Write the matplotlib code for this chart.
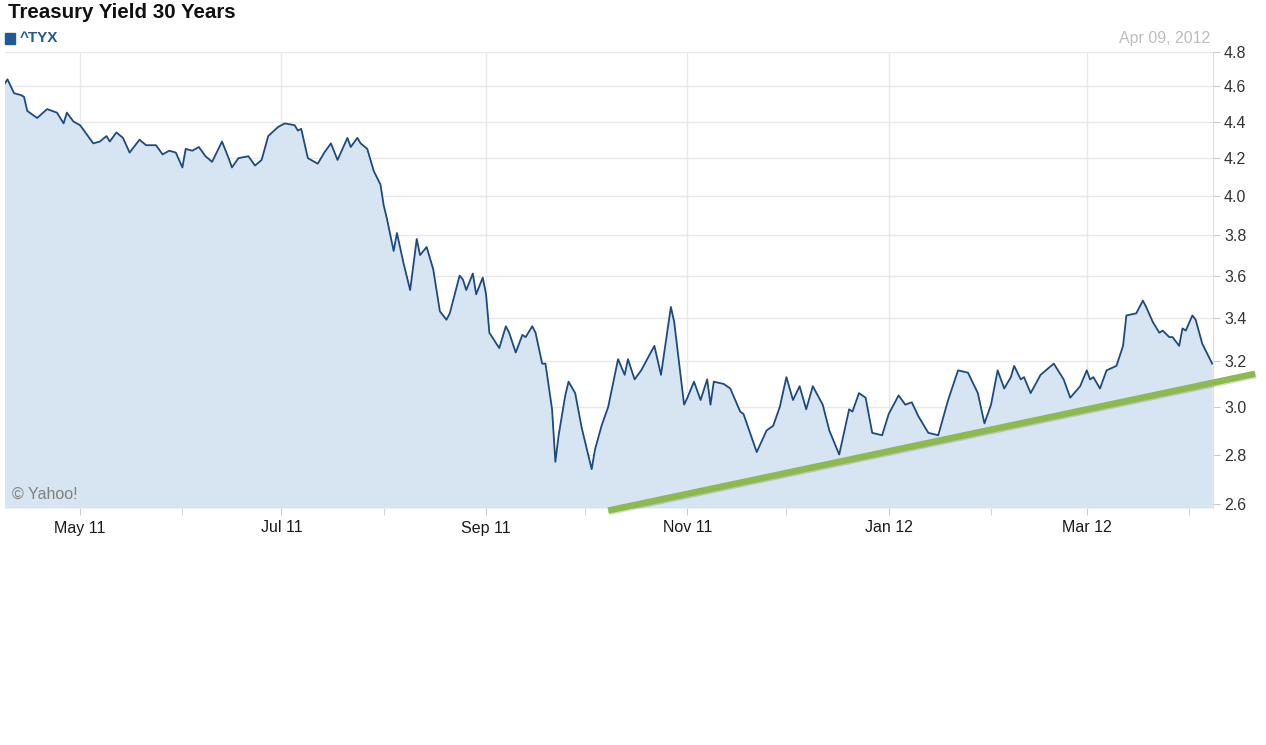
import numpy as np
import pandas as pd
import matplotlib
matplotlib.use('Agg')
import matplotlib.pyplot as plt
import matplotlib.dates as mdates
import matplotlib.patheffects as pe
from matplotlib.patches import Rectangle

plt.rcParams['font.family'] = ['Liberation Sans', 'DejaVu Sans']

# ^TYX closing yields
dates = ['2011-04-08', '2011-04-09', '2011-04-10', '2011-04-11', '2011-04-13', '2011-04-14',
         '2011-04-15', '2011-04-18', '2011-04-21', '2011-04-24', '2011-04-26', '2011-04-27',
         '2011-04-29', '2011-05-01', '2011-05-05', '2011-05-07', '2011-05-09', '2011-05-10',
         '2011-05-12', '2011-05-14', '2011-05-16', '2011-05-19', '2011-05-21', '2011-05-24',
         '2011-05-26', '2011-05-28', '2011-05-30', '2011-06-01', '2011-06-02', '2011-06-04',
         '2011-06-06', '2011-06-08', '2011-06-10', '2011-06-13', '2011-06-15', '2011-06-16',
         '2011-06-18', '2011-06-21', '2011-06-23', '2011-06-25', '2011-06-27', '2011-06-30',
         '2011-07-02', '2011-07-05', '2011-07-06', '2011-07-07', '2011-07-09', '2011-07-12',
         '2011-07-14', '2011-07-16', '2011-07-18', '2011-07-21', '2011-07-22', '2011-07-24',
         '2011-07-25', '2011-07-27', '2011-07-29', '2011-07-31', '2011-08-01', '2011-08-02',
         '2011-08-04', '2011-08-05', '2011-08-07', '2011-08-09', '2011-08-11', '2011-08-12',
         '2011-08-14', '2011-08-16', '2011-08-18', '2011-08-20', '2011-08-21', '2011-08-24',
         '2011-08-25', '2011-08-26', '2011-08-28', '2011-08-29', '2011-08-31', '2011-09-01',
         '2011-09-02', '2011-09-05', '2011-09-07', '2011-09-08', '2011-09-10', '2011-09-12',
         '2011-09-13', '2011-09-15', '2011-09-16', '2011-09-18', '2011-09-19', '2011-09-21',
         '2011-09-22', '2011-09-23', '2011-09-25', '2011-09-26', '2011-09-28', '2011-09-30',
         '2011-10-03', '2011-10-04', '2011-10-06', '2011-10-08', '2011-10-11', '2011-10-13',
         '2011-10-14', '2011-10-16', '2011-10-18', '2011-10-22', '2011-10-24', '2011-10-27',
         '2011-10-28', '2011-10-31', '2011-11-01', '2011-11-03', '2011-11-05', '2011-11-07',
         '2011-11-08', '2011-11-09', '2011-11-12', '2011-11-14', '2011-11-17', '2011-11-18',
         '2011-11-22', '2011-11-25', '2011-11-27', '2011-11-29', '2011-12-01', '2011-12-03',
         '2011-12-05', '2011-12-07', '2011-12-09', '2011-12-12', '2011-12-14', '2011-12-17',
         '2011-12-20', '2011-12-21', '2011-12-23', '2011-12-25', '2011-12-27', '2011-12-30',
         '2012-01-01', '2012-01-04', '2012-01-06', '2012-01-08', '2012-01-10', '2012-01-13',
         '2012-01-16', '2012-01-19', '2012-01-22', '2012-01-25', '2012-01-28', '2012-01-30',
         '2012-02-01', '2012-02-03', '2012-02-05', '2012-02-07', '2012-02-08', '2012-02-10',
         '2012-02-11', '2012-02-13', '2012-02-16', '2012-02-20', '2012-02-23', '2012-02-25',
         '2012-02-28', '2012-03-01', '2012-03-02', '2012-03-03', '2012-03-05', '2012-03-07',
         '2012-03-10', '2012-03-12', '2012-03-13', '2012-03-16', '2012-03-18', '2012-03-19',
         '2012-03-21', '2012-03-23', '2012-03-24', '2012-03-26', '2012-03-27', '2012-03-29',
         '2012-03-30', '2012-03-31', '2012-04-02', '2012-04-03', '2012-04-05', '2012-04-08']

yields = [4.61, 4.64, 4.60, 4.56, 4.55, 4.54,
          4.46, 4.42, 4.47, 4.45, 4.39, 4.45,
          4.40, 4.38, 4.28, 4.29, 4.32, 4.29,
          4.34, 4.31, 4.23, 4.30, 4.27, 4.27,
          4.22, 4.24, 4.23, 4.15, 4.25, 4.24,
          4.26, 4.21, 4.18, 4.29, 4.20, 4.15,
          4.20, 4.21, 4.16, 4.19, 4.32, 4.37,
          4.39, 4.38, 4.35, 4.36, 4.20, 4.17,
          4.23, 4.28, 4.19, 4.31, 4.26, 4.31,
          4.28, 4.25, 4.13, 4.06, 3.95, 3.88,
          3.72, 3.81, 3.66, 3.53, 3.78, 3.70,
          3.74, 3.63, 3.43, 3.39, 3.42, 3.60,
          3.58, 3.53, 3.61, 3.51, 3.59, 3.51,
          3.33, 3.26, 3.36, 3.33, 3.24, 3.32,
          3.31, 3.36, 3.33, 3.19, 3.19, 2.99,
          2.77, 2.88, 3.05, 3.11, 3.06, 2.91,
          2.74, 2.82, 2.92, 3.00, 3.21, 3.14,
          3.21, 3.12, 3.16, 3.27, 3.14, 3.45,
          3.38, 3.01, 3.04, 3.11, 3.03, 3.12,
          3.01, 3.11, 3.10, 3.08, 2.98, 2.97,
          2.81, 2.90, 2.92, 3.00, 3.13, 3.03,
          3.09, 2.99, 3.09, 3.01, 2.90, 2.80,
          2.99, 2.98, 3.06, 3.04, 2.89, 2.88,
          2.97, 3.05, 3.01, 3.02, 2.96, 2.89,
          2.88, 3.03, 3.16, 3.15, 3.06, 2.93,
          3.01, 3.16, 3.08, 3.13, 3.18, 3.12,
          3.13, 3.06, 3.14, 3.19, 3.12, 3.04,
          3.09, 3.16, 3.12, 3.13, 3.08, 3.16,
          3.18, 3.27, 3.41, 3.42, 3.48, 3.45,
          3.38, 3.33, 3.34, 3.31, 3.31, 3.27,
          3.35, 3.34, 3.41, 3.39, 3.28, 3.19]

# hand-drawn support line
trend_dates = ['2011-10-08', '2012-04-21']
trend_values = [2.575, 3.145]

y_ticks = [2.6, 2.8, 3.0, 3.2, 3.4, 3.6, 3.8, 4.0, 4.2, 4.4, 4.6, 4.8]

x = pd.to_datetime(dates)
W, H = 1266, 745
fig = plt.figure(figsize=(W / 100, H / 100), dpi=100)
ax = fig.add_axes([5 / W, 1 - 508 / H, (1213 - 5) / W, (508 - 52) / H])

ax.set_yscale('function', functions=(lambda v: np.log(v + 1.74), lambda t: np.exp(t) - 1.74))
ybot = 2.585
ax.fill_between(x, yields, ybot, color='#d6e5f1', lw=0, zorder=1)
ax.plot(x, yields, color='#1b4b80', lw=1.3, zorder=3)

ax.plot(pd.to_datetime(trend_dates), trend_values, color='#8dba4c', lw=4.6,
        solid_capstyle='butt', clip_on=False, zorder=5,
        path_effects=[pe.SimpleLineShadow(offset=(0.6, -1.0), alpha=0.15), pe.Normal()])

ax.set_ylim(ybot, 4.8)
ax.set_xlim(pd.Timestamp('2011-04-08 06:00'), pd.Timestamp('2012-04-08 06:00'))

ax.set_yticks(y_ticks)
ax.set_yticklabels(['%.1f' % v for v in y_ticks])
ax.yaxis.set_minor_locator(matplotlib.ticker.NullLocator())
ax.yaxis.tick_right()
ax.tick_params(axis='y', which='major', length=5, color='#cccccc', pad=3,
               labelsize=11.5, labelcolor='#333333')

ax.xaxis.set_major_locator(mdates.MonthLocator(bymonth=[1, 3, 5, 7, 9, 11]))
ax.xaxis.set_minor_locator(mdates.MonthLocator(bymonth=[2, 4, 6, 8, 10, 12]))
ax.xaxis.set_major_formatter(mdates.DateFormatter('%b %y'))
ax.tick_params(axis='x', which='both', length=5, color='#cccccc', pad=4,
               labelsize=11.5, labelcolor='#1a1a1a')

ax.grid(True, which='major', color='#e8e8e8', lw=1.0, zorder=0)
ax.set_axisbelow(True)
for s in ['left', 'top', 'bottom']:
    ax.spines[s].set_visible(False)
ax.spines['right'].set_color('#dddddd')

fig.text(8 / W, 1 - 12 / H, 'Treasury Yield 30 Years', fontsize=14.8, fontweight='bold',
         color='#111111', va='center')
fig.patches.append(Rectangle((5 / W, 1 - 44 / H), 10 / W, 11 / H, color='#1f5a96',
                             transform=fig.transFigure, figure=fig))
fig.text(20 / W, 1 - 38 / H, '^TYX', fontsize=11, fontweight='bold', color='#1f5a96', va='center')
fig.text(1210 / W, 1 - 38 / H, 'Apr 09, 2012', fontsize=11.5, color='#bdbdbd',
         ha='right', va='center')
fig.text(12 / W, 1 - 494 / H, '\u00a9 Yahoo!', fontsize=11.5, color='#808080', va='center')

fig.savefig('out.png', dpi=100)
